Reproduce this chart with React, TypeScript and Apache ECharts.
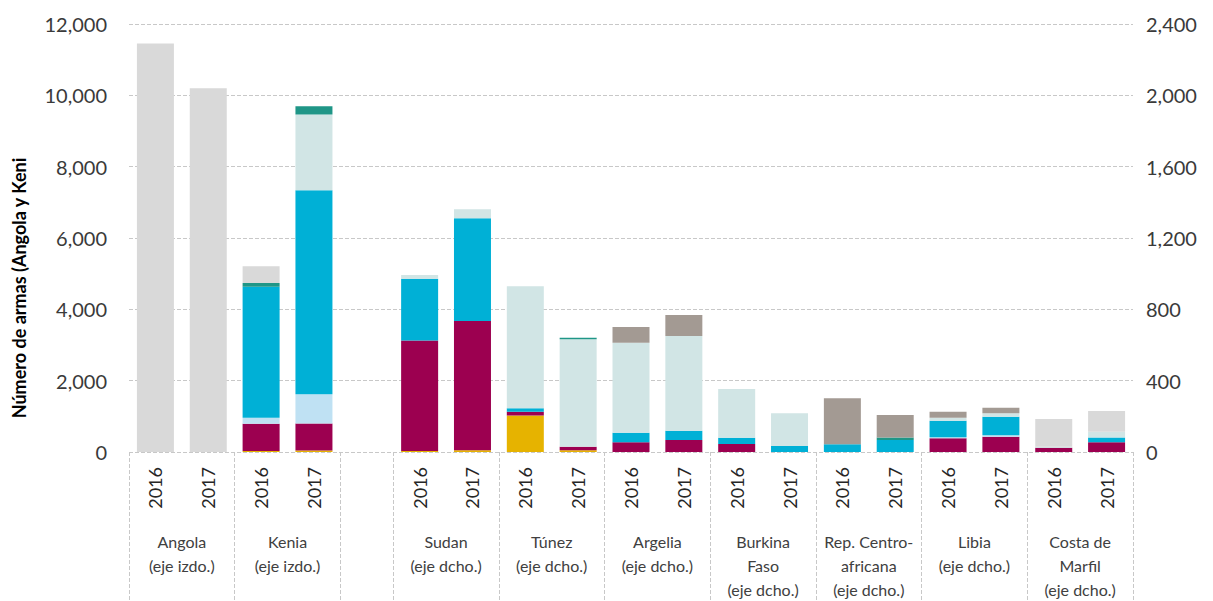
import React, { useEffect, useRef } from "react";
import * as echarts from "echarts";

// ---- data ----
const groupLabels = [
  "Angola\n(eje izdo.)",
  "Kenia\n(eje izdo.)",
  "Sudan\n(eje dcho.)",
  "Túnez\n(eje dcho.)",
  "Argelia\n(eje dcho.)",
  "Burkina\nFaso\n(eje dcho.)",
  "Rep. Centro-\nafricana\n(eje dcho.)",
  "Libia\n(eje dcho.)",
  "Costa de\nMarfil\n(eje dcho.)",
];
const groupAxis = ["izdo", "izdo", "dcho", "dcho", "dcho", "dcho", "dcho", "dcho", "dcho"];
const years = ["2016", "2017"];

const leftTicks = [0, 2000, 4000, 6000, 8000, 10000, 12000];
const rightTicks = [0, 400, 800, 1200, 1600, 2000, 2400];

// values per group/year: Ang16, Ang17, Ken16, Ken17, Sud16, Sud17, Tun16, Tun17, Arg16, Arg17,
// Bur16, Bur17, RCA16, RCA17, Lib16, Lib17, CdM16, CdM17
const serieA = [0, 0, 30, 40, 5, 10, 204, 10, 0, 0, 0, 0, 0, 0, 0, 0, 0, 0];
const serieB = [0, 0, 760, 760, 620, 725, 22, 20, 54, 67, 45, 0, 0, 0, 77, 86, 24, 54];
const serieC = [0, 0, 170, 820, 0, 0, 0, 0, 0, 0, 0, 0, 0, 0, 6, 8, 0, 0];
const serieD = [0, 0, 3670, 5720, 346, 576, 19, 0, 54, 52, 35, 34, 43, 67, 92, 104, 0, 28];
const serieE = [0, 0, 0, 2120, 22, 50, 685, 602, 505, 531, 273, 183, 0, 0, 17, 19, 5, 32];
const serieF = [0, 0, 110, 235, 0, 0, 0, 8, 0, 0, 0, 0, 0, 15, 0, 0, 0, 0];
const serieG = [0, 0, 0, 0, 0, 0, 0, 0, 88, 118, 0, 0, 258, 125, 34, 31, 0, 0];
const serieH = [11450, 10200, 470, 0, 0, 0, 0, 0, 0, 0, 0, 0, 0, 0, 0, 0, 156, 116];

const seriesDefs = [
  { name: "Serie A", values: serieA, color: "#e6b300" },
  { name: "Serie B", values: serieB, color: "#9c0050" },
  { name: "Serie C", values: serieC, color: "#bfe1f3" },
  { name: "Serie D", values: serieD, color: "#00b0d6" },
  { name: "Serie E", values: serieE, color: "#d1e5e5" },
  { name: "Serie F", values: serieF, color: "#1f9687" },
  { name: "Serie G", values: serieG, color: "#a39a93" },
  { name: "Serie H", values: serieH, color: "#d9d9d9" },
];

const yAxisTitle = "Número de armas (Angola y Keni";

// ---- build slots ----
type Slot = { g: number; y: number } | null;
const slots: Slot[] = [];
groupLabels.forEach((_, gi) => {
  if (gi > 0 && groupAxis[gi] !== groupAxis[gi - 1]) slots.push(null);
  years.forEach((_, yi) => slots.push({ g: gi, y: yi }));
});
const slotKeys = slots.map((_, i) => "s" + i);
const slotYearLabels = slots.map((s) => (s ? years[s.y] : ""));

const boundaryKeys = Array.from({ length: slots.length + 1 }, (_, i) => "b" + i);
const boundaryLabels = boundaryKeys.map(() => "");
const separators = new Set<number>();
slots.forEach((s, i) => {
  if (s && s.y === 0) {
    boundaryLabels[i + 1] = groupLabels[s.g];
    separators.add(i);
    separators.add(i + 2);
  }
});

const fmt = (v: number) => v.toLocaleString("en-US");
const FONT = "Lato, 'Open Sans', sans-serif";

export default function App() {
  const ref = useRef<HTMLDivElement>(null);
  useEffect(() => {
    if (!ref.current) return;
    const chart = echarts.init(ref.current, undefined, { renderer: "svg" });
    const series: any[] = [];
    seriesDefs.forEach((d) => {
      ["izdo", "dcho"].forEach((side, ai) => {
        series.push({
          name: d.name,
          type: "bar",
          stack: side,
          xAxisIndex: 0,
          yAxisIndex: ai,
          barWidth: 37,
          barGap: "-100%",
          itemStyle: { color: d.color },
          data: slots.map((s) => {
            if (!s || groupAxis[s.g] !== side) return "-";
            const v = d.values[s.g * 2 + s.y];
            return v ? v : "-";
          }),
        });
      });
    });
    chart.setOption({
      animation: false,
      textStyle: { fontFamily: FONT },
      grid: { left: 129, right: 80, top: 24, bottom: 149 },
      xAxis: [
        {
          type: "category",
          data: slotKeys,
          position: "bottom",
          axisLine: { show: false },
          axisTick: { show: false },
          splitLine: { show: false },
          axisLabel: {
            interval: 0,
            rotate: 90,
            margin: 15,
            fontSize: 18,
            color: "#262626",
            fontFamily: FONT,
            formatter: (_v: string, i: number) => slotYearLabels[i],
          },
        },
        {
          type: "category",
          data: boundaryKeys,
          boundaryGap: false,
          position: "bottom",
          axisLine: { show: false },
          splitLine: { show: false },
          axisTick: {
            show: true,
            length: 152,
            interval: (i: number) => separators.has(i),
            lineStyle: { color: "#c8c8c8", type: "dashed", width: 1 },
          },
          axisLabel: {
            interval: 0,
            margin: 77,
            fontSize: 16,
            lineHeight: 24,
            color: "#404040",
            fontFamily: FONT,
            align: "center",
            formatter: (_v: string, i: number) => boundaryLabels[i],
          },
        },
      ],
      yAxis: [
        {
          type: "value",
          position: "left",
          min: leftTicks[0],
          max: leftTicks[leftTicks.length - 1],
          interval: leftTicks[1] - leftTicks[0],
          axisLine: { show: false },
          axisTick: { show: false },
          splitLine: { show: true, lineStyle: { color: "#c8c8c8", type: "dashed", width: 1 } },
          axisLabel: { margin: 22, fontSize: 20, color: "#3a3a3a", fontFamily: FONT, formatter: fmt },
        },
        {
          type: "value",
          position: "right",
          min: rightTicks[0],
          max: rightTicks[rightTicks.length - 1],
          interval: rightTicks[1] - rightTicks[0],
          axisLine: { show: false },
          axisTick: { show: false },
          splitLine: { show: false },
          axisLabel: { margin: 13, fontSize: 20, color: "#3a3a3a", fontFamily: FONT, formatter: fmt },
        },
      ],
      graphic: [
        {
          type: "text",
          x: 19,
          y: 288,
          rotation: Math.PI / 2,
          style: {
            text: yAxisTitle,
            font: "bold 18px " + FONT,
            fill: "#000",
            textAlign: "center",
            textVerticalAlign: "middle",
          },
        },
      ],
      series,
    });
    return () => chart.dispose();
  }, []);
  return (
    <div
      ref={ref}
      style={{ position: "fixed", left: 0, top: 0, width: 1213, height: 601, background: "#fff" }}
    />
  );
}
